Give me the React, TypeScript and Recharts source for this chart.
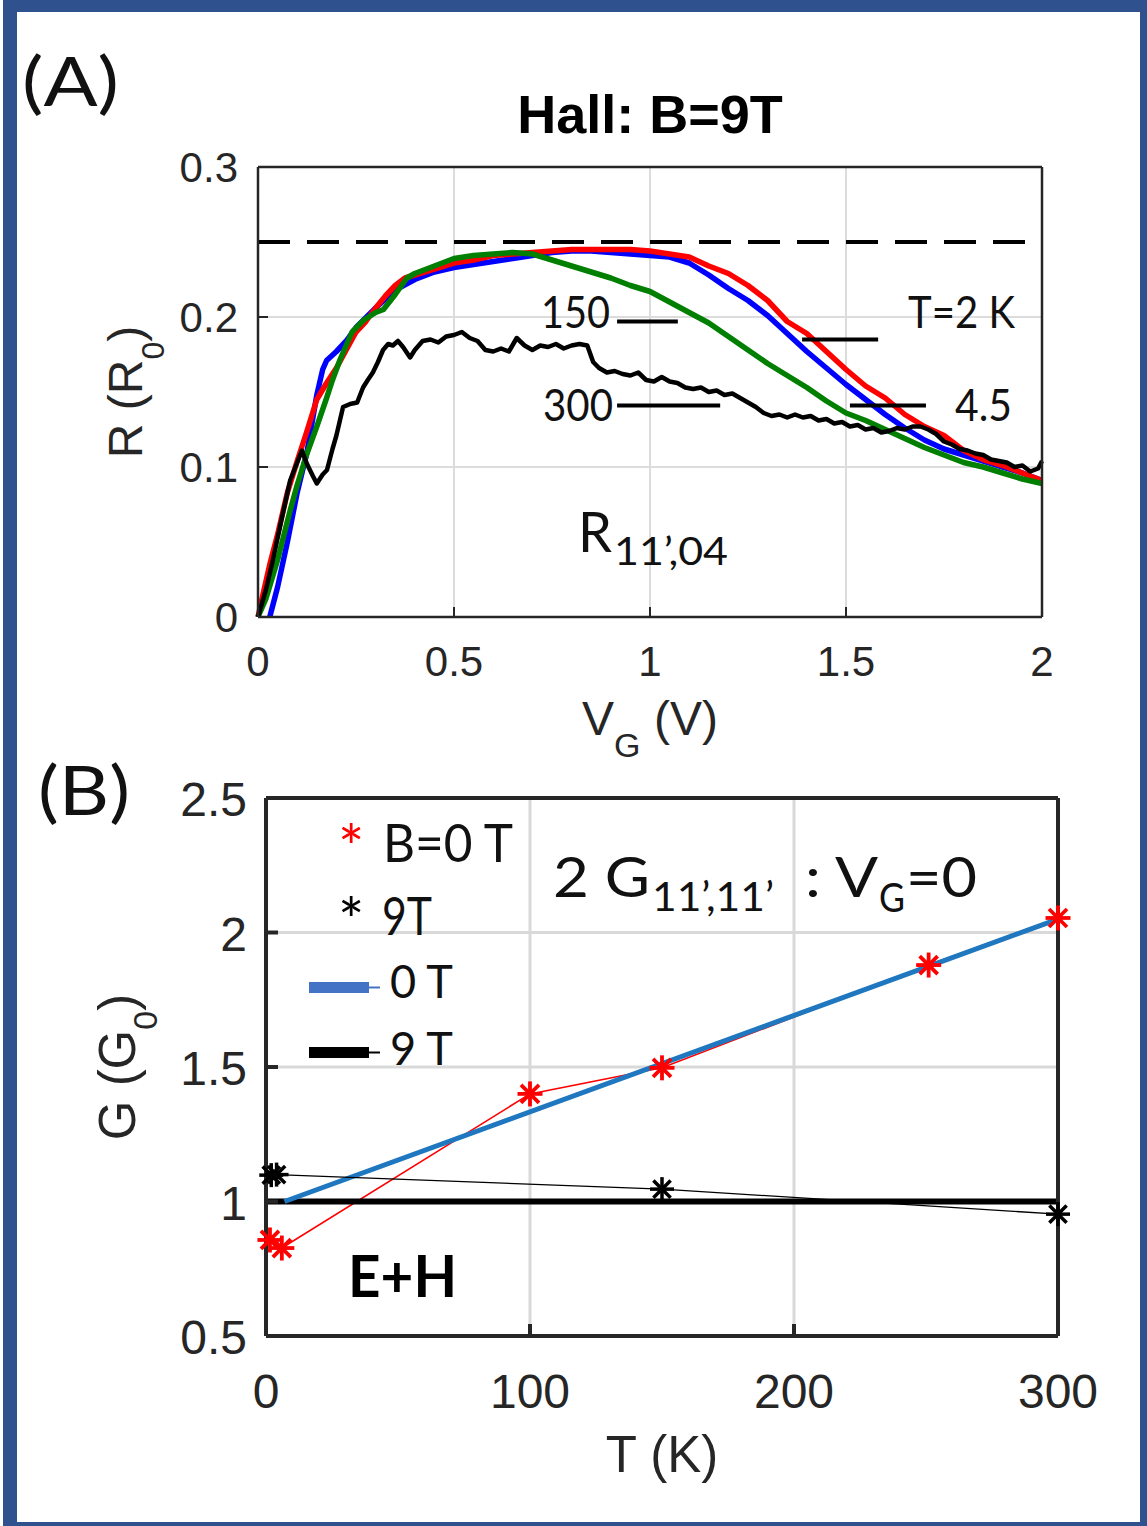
import React from 'react';
import { LineChart, Line, XAxis, YAxis, CartesianGrid, ReferenceLine } from 'recharts';

// ---------------- Panel A data (Hall, B = 9 T) ----------------
const redV = [0, 0.01, 0.03, 0.05, 0.075, 0.1, 0.125, 0.15, 0.175, 0.2, 0.225, 0.25, 0.275, 0.3, 0.325, 0.35, 0.375, 0.4, 0.45, 0.5, 0.55, 0.6, 0.65, 0.7, 0.75, 0.8, 0.85, 0.9, 0.95, 1.0, 1.05, 1.1, 1.15, 1.2, 1.25, 1.3, 1.35, 1.4, 1.45, 1.5, 1.55, 1.6, 1.65, 1.7, 1.75, 1.8, 1.85, 1.9, 1.95, 2.0];
const redR = [0, 0.012, 0.035, 0.055, 0.083, 0.104, 0.124, 0.145, 0.156, 0.166, 0.178, 0.19, 0.197, 0.206, 0.214, 0.221, 0.226, 0.228, 0.232, 0.236, 0.238, 0.241, 0.242, 0.243, 0.244, 0.245, 0.245, 0.245, 0.245, 0.244, 0.242, 0.24, 0.234, 0.229, 0.221, 0.211, 0.197, 0.189, 0.177, 0.165, 0.154, 0.146, 0.135, 0.127, 0.121, 0.111, 0.105, 0.101, 0.096, 0.091];

const blueV = [0.03, 0.05, 0.075, 0.1, 0.125, 0.15, 0.165, 0.175, 0.2, 0.225, 0.25, 0.3, 0.35, 0.4, 0.45, 0.5, 0.55, 0.6, 0.65, 0.7, 0.75, 0.8, 0.85, 0.9, 0.95, 1.0, 1.05, 1.1, 1.15, 1.2, 1.25, 1.3, 1.35, 1.4, 1.45, 1.5, 1.55, 1.6, 1.65, 1.7, 1.75, 1.8, 1.85, 1.9, 1.95, 2.0];
const blueR = [0, 0.02, 0.05, 0.083, 0.11, 0.148, 0.165, 0.171, 0.177, 0.184, 0.193, 0.206, 0.218, 0.225, 0.23, 0.233, 0.235, 0.237, 0.239, 0.241, 0.243, 0.244, 0.244, 0.243, 0.242, 0.241, 0.24, 0.236, 0.228, 0.219, 0.211, 0.201, 0.189, 0.177, 0.166, 0.155, 0.145, 0.135, 0.126, 0.118, 0.112, 0.108, 0.104, 0.1, 0.096, 0.091];

const greenV = [0, 0.02, 0.05, 0.082, 0.1, 0.125, 0.15, 0.175, 0.19, 0.21, 0.24, 0.27, 0.3, 0.32, 0.35, 0.38, 0.4, 0.45, 0.5, 0.55, 0.6, 0.65, 0.7, 0.75, 0.8, 0.85, 0.9, 0.95, 1.0, 1.05, 1.1, 1.15, 1.2, 1.25, 1.3, 1.35, 1.4, 1.45, 1.5, 1.55, 1.6, 1.65, 1.7, 1.75, 1.8, 1.85, 1.9, 1.95, 2.0];
const greenR = [0, 0.012, 0.038, 0.071, 0.088, 0.109, 0.127, 0.146, 0.158, 0.172, 0.19, 0.198, 0.203, 0.205, 0.215, 0.226, 0.229, 0.234, 0.239, 0.241, 0.242, 0.243, 0.242, 0.238, 0.234, 0.23, 0.226, 0.221, 0.217, 0.21, 0.203, 0.196, 0.187, 0.178, 0.169, 0.161, 0.153, 0.144, 0.136, 0.131, 0.125, 0.119, 0.113, 0.108, 0.103, 0.1, 0.096, 0.092, 0.089];

const blackV = [0, 0.02, 0.038, 0.06, 0.082, 0.1, 0.112, 0.125, 0.14, 0.15, 0.165, 0.176, 0.19, 0.2, 0.217, 0.235, 0.253, 0.268, 0.28, 0.293, 0.306, 0.319, 0.332, 0.344, 0.357, 0.37, 0.388,
  0.4, 0.42, 0.44, 0.46, 0.48, 0.5, 0.52, 0.54, 0.56, 0.58, 0.6, 0.62, 0.64, 0.66, 0.68, 0.7, 0.72, 0.74, 0.76, 0.78, 0.8, 0.82, 0.84, 0.855, 0.87, 0.89, 0.91, 0.93, 0.95, 0.97, 0.99,
  1.01, 1.03, 1.05, 1.07, 1.09, 1.11, 1.13, 1.15, 1.17, 1.19, 1.21, 1.23, 1.25, 1.27, 1.29, 1.31, 1.33, 1.35, 1.37, 1.39, 1.41, 1.43, 1.45, 1.47, 1.49,
  1.51, 1.53, 1.55, 1.57, 1.59, 1.61, 1.63, 1.65, 1.67, 1.69, 1.71, 1.73, 1.75, 1.77, 1.79, 1.81, 1.83, 1.85, 1.87, 1.89, 1.91, 1.93, 1.95, 1.97, 1.99, 2.0];
const blackR = [0, 0.018, 0.038, 0.065, 0.091, 0.103, 0.111, 0.102, 0.094, 0.089, 0.095, 0.098, 0.112, 0.121, 0.14, 0.142, 0.143, 0.153, 0.158, 0.163, 0.17, 0.178, 0.182, 0.181, 0.184, 0.18, 0.173,
  0.178, 0.184, 0.185, 0.183, 0.187, 0.188, 0.19, 0.186, 0.184, 0.178, 0.177, 0.179, 0.177, 0.186, 0.181, 0.178, 0.181, 0.18, 0.182, 0.179, 0.181, 0.182, 0.181, 0.17, 0.166, 0.163, 0.164, 0.162, 0.161, 0.163, 0.158,
  0.157, 0.16, 0.157, 0.156, 0.153, 0.152, 0.153, 0.15, 0.151, 0.148, 0.149, 0.146, 0.143, 0.14, 0.136, 0.134, 0.135, 0.133, 0.135, 0.133, 0.134, 0.131, 0.132, 0.129, 0.13,
  0.127, 0.128, 0.125, 0.126, 0.123, 0.124, 0.126, 0.125, 0.127, 0.127, 0.125, 0.122, 0.117, 0.115, 0.112, 0.111, 0.109, 0.108, 0.105, 0.104, 0.103, 0.1, 0.101, 0.097, 0.099, 0.104];

const aXTicks = [0, 0.5, 1, 1.5, 2];
const aYTicks = [0, 0.1, 0.2, 0.3];
const plateauR = 0.25;
// temperature marker lines (label, V start, V end, R level)
const markerLabels = ['150', '300', 'T=2 K', '4.5'];
const markerV1 = [0.916, 0.916, 1.388, 1.51];
const markerV2 = [1.071, 1.179, 1.582, 1.704];
const markerR = [0.197, 0.141, 0.185, 0.141];

// ---------------- Panel B data (2 G11',11' at VG = 0) ----------------
const b0T = [1.5, 6, 100, 150, 251, 300];
const b0G = [0.857, 0.827, 1.4, 1.497, 1.879, 2.054];
const b9T = [2, 4, 150, 300];
const b9G = [1.098, 1.1, 1.046, 0.953];
const fit0T = [7, 300];
const fit0G = [1.0, 2.05];
const fit9T = [0, 300];
const fit9G = [1.0, 1.0];

const bXTicks = [0, 100, 200, 300];
const bYTicks = [0.5, 1, 1.5, 2, 2.5];

const zip = (xs: number[], ys: number[]) =>
  xs.slice(0, Math.min(xs.length, ys.length)).map((x, i) => ({ x, y: ys[i] }));

const redData = zip(redV, redR);
const blueData = zip(blueV, blueR);
const greenData = zip(greenV, greenR);
const blackData = zip(blackV, blackR);
const b0Data = zip(b0T, b0G);
const b9Data = zip(b9T, b9G);
const fit0Data = zip(fit0T, fit0G);
const fit9Data = zip(fit9T, fit9G);

const AXC = '#262626';
const TICK_FONT = '"Liberation Sans", Arial, Helvetica, sans-serif';
const NOTE_FONT = 'Lato, "Open Sans", sans-serif';

type Side = 'bottom' | 'left' | 'top' | 'right';
function makeTick(side: Side, len: number, sw: number, fontSize: number, off: number, dyBase: number) {
  return (p: any) => {
    const { x, y, payload } = p;
    const v = payload ? payload.value : '';
    const label = String(v);
    if (side === 'bottom') {
      return (
        <g>
          <line x1={x} y1={y} x2={x} y2={y - len} stroke={AXC} strokeWidth={sw} />
          <text x={x} y={y + off} textAnchor="middle" fontSize={fontSize} fontFamily={TICK_FONT} fill={AXC}>{label}</text>
        </g>
      );
    }
    if (side === 'left') {
      return (
        <g>
          <line x1={x} y1={y} x2={x + len} y2={y} stroke={AXC} strokeWidth={sw} />
          <text x={x - off} y={y + dyBase} textAnchor="end" fontSize={fontSize} fontFamily={TICK_FONT} fill={AXC}>{label}</text>
        </g>
      );
    }
    if (side === 'top') {
      return <line x1={x} y1={y} x2={x} y2={y + len} stroke={AXC} strokeWidth={sw} />;
    }
    return <line x1={x} y1={y} x2={x - len} y2={y} stroke={AXC} strokeWidth={sw} />;
  };
}

const StarDot = (p: any, color: string, r: number, sw: number) => {
  const { cx, cy, index } = p;
  if (cx == null || cy == null) return <g key={`s-${index}`} />;
  const d = r * 0.72;
  return (
    <g key={`s-${color}-${index}`} stroke={color} strokeWidth={sw} strokeLinecap="butt">
      <line x1={cx - r} y1={cy} x2={cx + r} y2={cy} />
      <line x1={cx} y1={cy - r} x2={cx} y2={cy + r} />
      <line x1={cx - d} y1={cy - d} x2={cx + d} y2={cy + d} />
      <line x1={cx - d} y1={cy + d} x2={cx + d} y2={cy - d} />
    </g>
  );
};

function PanelA() {
  return (
    <LineChart width={1147} height={700} margin={{ top: 157, right: 95, bottom: 23, left: 178 }}>
      <CartesianGrid stroke="#dcdcdc" strokeWidth={2} />
      <XAxis dataKey="x" type="number" domain={[0, 2]} ticks={aXTicks} interval={0} height={60}
        tickSize={0} tickMargin={0} tickLine={false} axisLine={{ stroke: AXC, strokeWidth: 2.5 }}
        tick={makeTick('bottom', 10, 2, 42, 59, 0)} />
      <XAxis xAxisId="top" orientation="top" dataKey="x" type="number" domain={[0, 2]} ticks={aXTicks} interval={0} height={10}
        tickSize={0} tickMargin={0} tickLine={false} axisLine={{ stroke: AXC, strokeWidth: 2.5 }}
        tick={makeTick('top', 10, 2, 42, 0, 0)} />
      <YAxis type="number" domain={[0, 0.3]} ticks={aYTicks} interval={0} width={80}
        tickSize={0} tickMargin={0} tickLine={false} axisLine={{ stroke: AXC, strokeWidth: 2.5 }}
        tick={makeTick('left', 10, 2, 42, 20, 15)} />
      <YAxis yAxisId="right" orientation="right" type="number" domain={[0, 0.3]} ticks={aYTicks} interval={0} width={10}
        tickSize={0} tickMargin={0} tickLine={false} axisLine={{ stroke: AXC, strokeWidth: 2.5 }}
        tick={makeTick('right', 10, 2, 42, 0, 0)} />
      <ReferenceLine y={plateauR} stroke="#000" strokeWidth={4} strokeDasharray="32 17" />
      <Line data={blueData} dataKey="y" type="linear" stroke="#0000ff" strokeWidth={5.5} dot={false} isAnimationActive={false} strokeLinejoin="round" />
      <Line data={redData} dataKey="y" type="linear" stroke="#ff0000" strokeWidth={5.5} dot={false} isAnimationActive={false} strokeLinejoin="round" />
      <Line data={greenData} dataKey="y" type="linear" stroke="#007f00" strokeWidth={5.5} dot={false} isAnimationActive={false} strokeLinejoin="round" />
      <Line data={blackData} dataKey="y" type="linear" stroke="#000000" strokeWidth={4.5} dot={false} isAnimationActive={false} strokeLinejoin="round" />
      {markerLabels.map((lab, i) => (
        <ReferenceLine key={lab} segment={[{ x: markerV1[i], y: markerR[i] }, { x: markerV2[i], y: markerR[i] }]}
          stroke="#000" strokeWidth={4} />
      ))}
    </LineChart>
  );
}

function PanelB() {
  return (
    <LineChart width={1147} height={826} margin={{ top: 88, right: 79, bottom: 120, left: 166 }}>
      <CartesianGrid stroke="#d9d9d9" strokeWidth={3} />
      <XAxis dataKey="x" type="number" domain={[0, 300]} ticks={bXTicks} interval={0} height={70}
        tickSize={0} tickMargin={0} tickLine={false} axisLine={{ stroke: AXC, strokeWidth: 4 }}
        tick={makeTick('bottom', 12, 4, 48, 72, 0)} />
      <XAxis xAxisId="top" orientation="top" dataKey="x" type="number" domain={[0, 300]} ticks={bXTicks} interval={0} height={10}
        tickSize={0} tickMargin={0} tickLine={false} axisLine={{ stroke: AXC, strokeWidth: 4 }}
        tick={makeTick('top', 12, 4, 48, 0, 0)} />
      <YAxis type="number" domain={[0.5, 2.5]} ticks={bYTicks} interval={0} width={100}
        tickSize={0} tickMargin={0} tickLine={false} axisLine={{ stroke: AXC, strokeWidth: 4 }}
        tick={makeTick('left', 12, 4, 48, 19, 18)} />
      <YAxis yAxisId="right" orientation="right" type="number" domain={[0.5, 2.5]} ticks={bYTicks} interval={0} width={10}
        tickSize={0} tickMargin={0} tickLine={false} axisLine={{ stroke: AXC, strokeWidth: 4 }}
        tick={makeTick('right', 12, 4, 48, 0, 0)} />
      <Line data={b0Data} dataKey="y" type="linear" stroke="#ff0000" strokeWidth={1.6} dot={false} isAnimationActive={false} />
      <Line data={fit9Data} dataKey="y" type="linear" stroke="#000000" strokeWidth={6} dot={false} isAnimationActive={false} />
      <Line data={fit0Data} dataKey="y" type="linear" stroke="#1f77bf" strokeWidth={5} dot={false} isAnimationActive={false} />
      <Line data={b9Data} dataKey="y" type="linear" stroke="#000000" strokeWidth={1.3}
        dot={(p: any) => StarDot(p, '#000000', 12, 3.5)} isAnimationActive={false} />
      <Line data={b0Data} dataKey="y" type="linear" stroke="none" strokeWidth={0}
        dot={(p: any) => StarDot(p, '#ff0000', 12.5, 3.8)} isAnimationActive={false} />
    </LineChart>
  );
}

function Overlay() {
  const t = { fontFamily: NOTE_FONT, fill: '#111' } as const;
  const h = { fontFamily: TICK_FONT, fill: AXC } as const;
  return (
    <svg width={1147} height={1526} style={{ position: 'absolute', left: 0, top: 0, pointerEvents: 'none' }}>
      {/* Panel A */}
      <text x={22} y={106} fontSize={68} textLength={97} lengthAdjust="spacingAndGlyphs" {...t}>(A)</text>
      <text x={650} y={133} fontSize={54} fontWeight={700} textAnchor="middle" fontFamily={TICK_FONT} fill="#000">Hall: B=9T</text>
      <text x={541} y={328} fontSize={44} textLength={69} lengthAdjust="spacingAndGlyphs" {...t}>{markerLabels[0]}</text>
      <text x={543} y={421} fontSize={44} textLength={70} lengthAdjust="spacingAndGlyphs" {...t}>{markerLabels[1]}</text>
      <text x={908} y={328} fontSize={44} textLength={107} lengthAdjust="spacingAndGlyphs" {...t}>{markerLabels[2]}</text>
      <text x={955} y={421} fontSize={44} textLength={57} lengthAdjust="spacingAndGlyphs" {...t}>{markerLabels[3]}</text>
      <text x={578} y={552} fontSize={56} textLength={34} lengthAdjust="spacingAndGlyphs" {...t}>R</text>
      <text x={614} y={565} fontSize={38} textLength={114} lengthAdjust="spacingAndGlyphs" {...t}>11’,04</text>
      <text x={142} y={392} fontSize={48} textAnchor="middle" transform="rotate(-90 142 392)" {...h}>
        R (R<tspan fontSize={32} dy={22}>0</tspan><tspan dy={-22}>)</tspan>
      </text>
      <text x={650} y={735} fontSize={48} textAnchor="middle" {...h}>
        V<tspan fontSize={34} dy={22}>G</tspan><tspan dy={-22}> (V)</tspan>
      </text>

      {/* Panel B */}
      <text x={38} y={815} fontSize={68} textLength={92} lengthAdjust="spacingAndGlyphs" {...t}>(B)</text>
      <text x={338} y={870} fontSize={62} fill="#ff0000" fontFamily={NOTE_FONT}>*</text>
      <text x={383} y={862} fontSize={52} textLength={130} lengthAdjust="spacingAndGlyphs" {...t}>B=0 T</text>
      <text x={338} y={943} fontSize={62} fill="#000" fontFamily={NOTE_FONT}>*</text>
      <text x={382} y={935} fontSize={52} textLength={50} lengthAdjust="spacingAndGlyphs" {...t}>9T</text>
      <rect x={309} y={982} width={60} height={11} fill="#4472c4" />
      <line x1={369} y1={987.5} x2={380} y2={987.5} stroke="#4472c4" strokeWidth={2} />
      <text x={390} y={998} fontSize={46} textLength={63} lengthAdjust="spacingAndGlyphs" {...t}>0 T</text>
      <rect x={309} y={1047} width={60} height={11} fill="#000" />
      <line x1={369} y1={1052.5} x2={380} y2={1052.5} stroke="#000" strokeWidth={2} />
      <text x={390} y={1065} fontSize={46} textLength={63} lengthAdjust="spacingAndGlyphs" {...t}>9 T</text>
      <text x={553} y={897} fontSize={56} textLength={97} lengthAdjust="spacingAndGlyphs" {...t}>2 G</text>
      <text x={652} y={911} fontSize={40} textLength={122} lengthAdjust="spacingAndGlyphs" {...t}>11’,11’</text>
      <text x={805} y={897} fontSize={56} textLength={73} lengthAdjust="spacingAndGlyphs" {...t}>: V</text>
      <text x={879} y={912} fontSize={40} textLength={26} lengthAdjust="spacingAndGlyphs" {...t}>G</text>
      <text x={906} y={897} fontSize={56} textLength={71} lengthAdjust="spacingAndGlyphs" {...t}>=0</text>
      <text x={348} y={1297} fontSize={58} fontWeight={700} textLength={109} lengthAdjust="spacingAndGlyphs" {...t} fill="#000">E+H</text>
      <text x={662} y={1472} fontSize={51} textAnchor="middle" {...h}>T (K)</text>
      <text x={135} y={1067} fontSize={51} textAnchor="middle" transform="rotate(-90 135 1067)" {...h}>
        G (G<tspan fontSize={34} dy={22}>0</tspan><tspan dy={-22}>)</tspan>
      </text>
    </svg>
  );
}

export default function App() {
  return (
    <div style={{ position: 'absolute', left: 0, top: 0, width: 1147, height: 1526, overflow: 'hidden', background: '#fff' }}>
      <div style={{ position: 'absolute', left: 0, top: 0 }}>
        <PanelA />
      </div>
      <div style={{ position: 'absolute', left: 0, top: 700 }}>
        <PanelB />
      </div>
      <Overlay />
      <div style={{ position: 'absolute', left: 3, top: -2, width: 1151, height: 1538, border: '14px solid #2f528f', boxSizing: 'border-box', pointerEvents: 'none' }} />
    </div>
  );
}
